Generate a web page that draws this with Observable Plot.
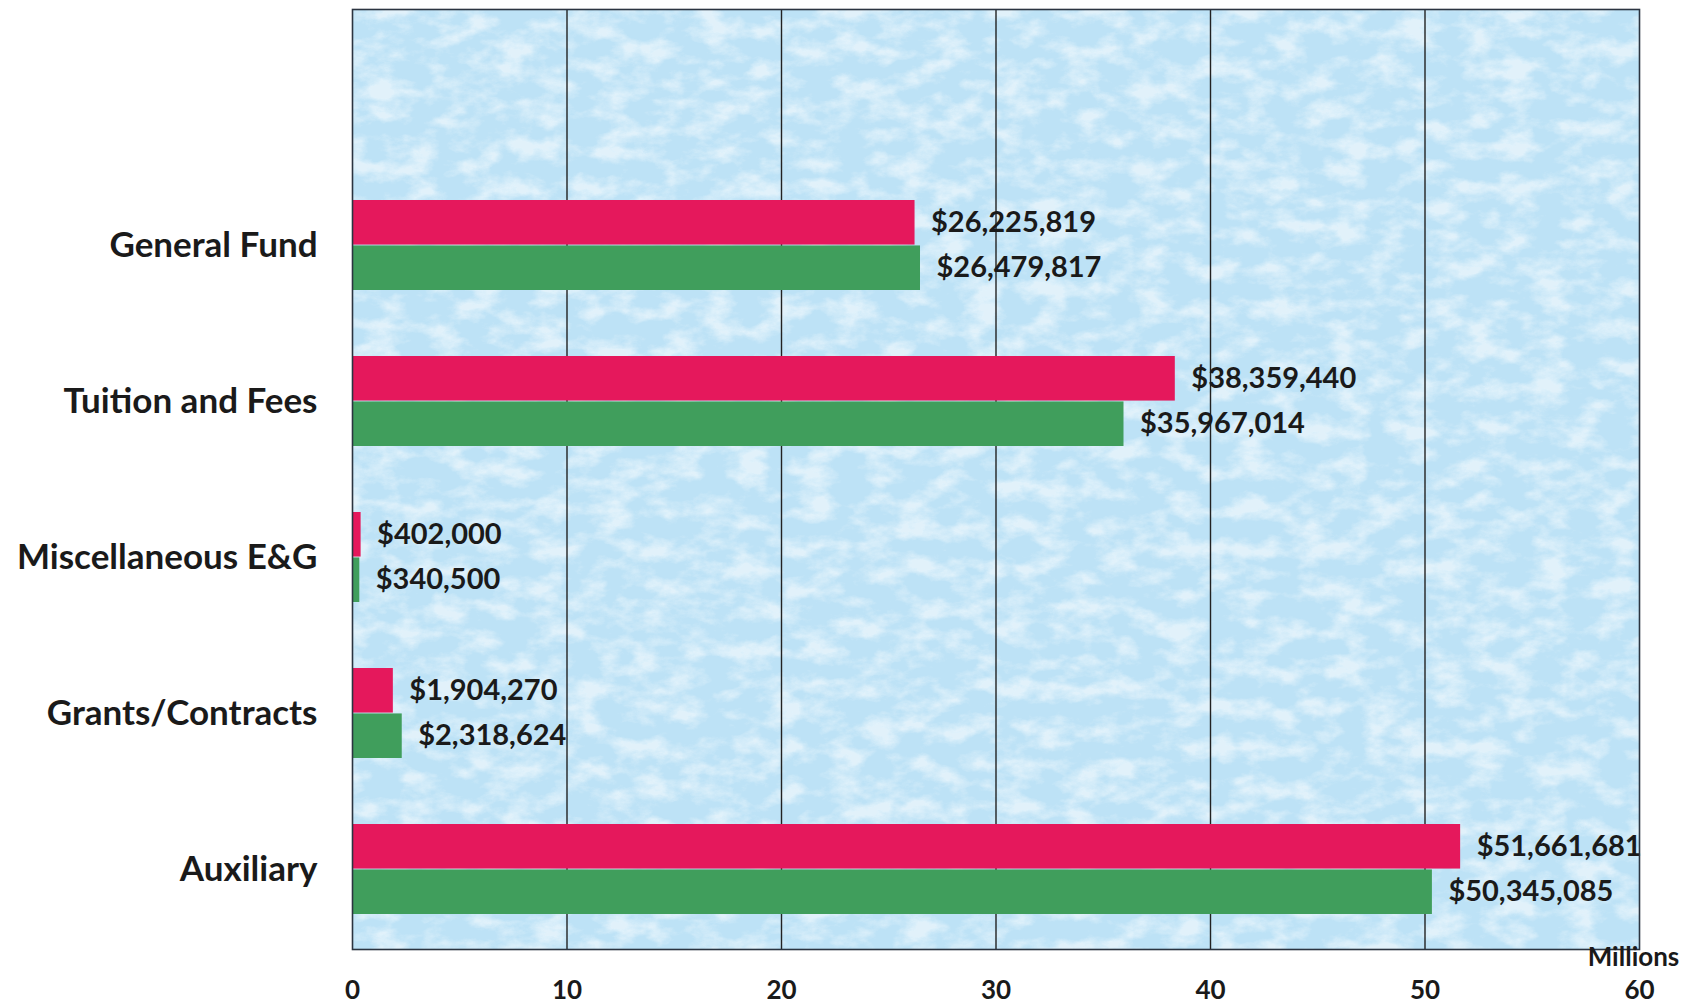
<!DOCTYPE html>
<html>
<head>
<meta charset="utf-8">
<script src="https://cdn.jsdelivr.net/npm/d3@7"></script>
<script src="https://cdn.jsdelivr.net/npm/@observablehq/plot@0.6"></script>
<style>
  html, body { margin: 0; padding: 0; background: #ffffff; }
  #chart svg { display: block; font-family: Lato, "Open Sans", sans-serif; }
  #chart g[aria-label="y-axis tick label"] text { font-size: 35px; font-weight: 700; fill: #1a1a1a; }
  #chart g[aria-label="x-axis tick label"] text { font-size: 26px; font-weight: 700; fill: #1a1a1a; }
</style>
</head>
<body>
<div id="chart"></div>
<script>
// ---- data ----
const categories = ["General Fund", "Tuition and Fees", "Miscellaneous E&G", "Grants/Contracts", "Auxiliary"];
const seriesNames = ["Series 1", "Series 2"];
const series1Values = [26225819, 38359440, 402000, 1904270, 51661681]; // pink
const series2Values = [26479817, 35967014, 340500, 2318624, 50345085]; // green
const xTicks = [0, 10, 20, 30, 40, 50, 60];
const gridTicks = [10, 20, 30, 40, 50];
const axisUnit = "Millions";

// ---- layout ----
const W = 1708, H = 1005;
const mTop = 9, mBottom = 56, mLeft = 352, mRight = 69;
const yDomain = [" ", ...categories]; // empty slot at top, as in the original
const padInner = 0.42;
const step = (H - mTop - mBottom) / yDomain.length;
const half = step * (1 - padInner) / 2;

const pink = "#e5185c";
const green = "#409e5c";
const fmt = d3.format("$,");

const rows1 = categories.map((c, i) => ({category: c, value: series1Values[i] / 1e6, raw: series1Values[i], series: seriesNames[0]}));
const rows2 = categories.map((c, i) => ({category: c, value: series2Values[i] / 1e6, raw: series2Values[i], series: seriesNames[1]}));

const chart = Plot.plot({
  width: W,
  height: H,
  marginTop: mTop,
  marginBottom: mBottom,
  marginLeft: mLeft,
  marginRight: mRight,
  x: {domain: [0, 60], ticks: xTicks, label: null},
  y: {domain: yDomain, paddingInner: padInner, paddingOuter: padInner / 2, label: null},
  marks: [
    Plot.frame({fill: "#bde2f6", stroke: null}),
    Plot.gridX(gridTicks, {stroke: "#222", strokeOpacity: 1, strokeWidth: 1.4}),
    Plot.barX(rows1, {x: "value", y: "category", fill: pink, insetBottom: half}),
    Plot.barX(rows2, {x: "value", y: "category", fill: green, insetTop: half}),
    Plot.text(rows1, {x: "value", y: "category", text: d => fmt(d.raw), dy: -half / 2, dx: 16,
      textAnchor: "start", fontSize: 29, fontWeight: 700, fill: "#1a1a1a"}),
    Plot.text(rows2, {x: "value", y: "category", text: d => fmt(d.raw), dy: half / 2, dx: 16,
      textAnchor: "start", fontSize: 29, fontWeight: 700, fill: "#1a1a1a"}),
    Plot.frame({stroke: "#2b3440", strokeWidth: 1.6}),
    Plot.axisX({ticks: xTicks, tickSize: 0, tickPadding: 31, tickFormat: d => String(d), label: null}),
    Plot.axisY({tickSize: 0, tickPadding: 35, tickFormat: d => d.trim() === "" ? "" : d, label: null}),
    Plot.text([axisUnit], {x: 60, frameAnchor: "bottom", dy: 8, dx: -6, text: d => d,
      fontSize: 26, fontWeight: 700, fill: "#1a1a1a", lineAnchor: "middle"})
  ]
});

document.getElementById("chart").appendChild(chart);

// mottled paper texture over the plot background
(function () {
  const ns = "http://www.w3.org/2000/svg";
  const bg = chart.querySelector('g[aria-label="frame"] rect, rect[aria-label="frame"]') || chart.querySelector('[aria-label="frame"]');
  if (!bg) return;
  const defs = document.createElementNS(ns, "defs");
  defs.innerHTML = `<filter id="mottle" x="0" y="0" width="100%" height="100%">
      <feTurbulence type="fractalNoise" baseFrequency="0.03 0.05" numOctaves="6" seed="11" result="n"/>
      <feColorMatrix in="n" type="matrix" values="0 0 0 0 1  0 0 0 0 1  0 0 0 0 1  3 0 0 0 -1.25"/>
    </filter>`;
  chart.insertBefore(defs, chart.firstChild);
  const r = document.createElementNS(ns, "rect");
  ["x", "y", "width", "height"].forEach(a => r.setAttribute(a, bg.getAttribute(a)));
  r.setAttribute("fill", "#fff");
  r.setAttribute("filter", "url(#mottle)");
  r.setAttribute("opacity", "0.55");
  bg.parentNode.insertBefore(r, bg.nextSibling);
})();
</script>
</body>
</html>
